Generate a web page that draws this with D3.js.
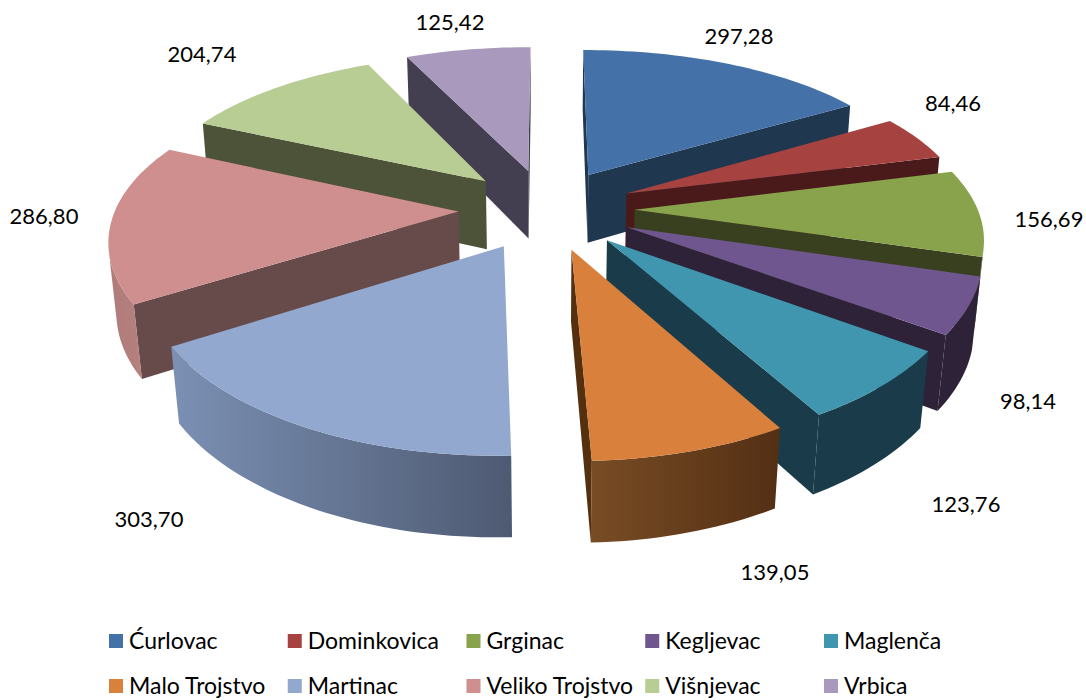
<!DOCTYPE html>
<html>
<head>
<meta charset="utf-8">
<script src="https://cdn.jsdelivr.net/npm/d3@7"></script>
<style>
  html, body { margin: 0; padding: 0; background: #fff; }
  text { font-family: Lato, "Open Sans", sans-serif; fill: #000; }
</style>
</head>
<body>
<svg id="chart" width="1086" height="700"></svg>
<script>
const names = ['Ćurlovac', 'Dominkovica', 'Grginac', 'Kegljevac', 'Maglenča',
               'Malo Trojstvo', 'Martinac', 'Veliko Trojstvo', 'Višnjevac', 'Vrbica']
const values = [297.28, 84.46, 156.69, 98.14, 123.76, 139.05, 303.70, 286.80, 204.74, 125.42]
const topColors = ['#4472a8', '#a64340', '#88a34c', '#70568f', '#3f96ae',
                   '#d8803c', '#92a8cf', '#cf8f8e', '#b8cd93', '#a899bd']
const wallColors = ['#203750', '#4a1a1a', '#384020', '#2d2238', '#1a3c4a',
                    '#55300f', '#6a7a9a', '#674a4a', '#4d5338', '#433e50']
const rimLeft = ['#203750', '#4a1a1a', '#384020', '#2d2238', '#1a3c4a',
                 '#784c24', '#7b90b4', '#b07c7a', '#4d5338', '#433e50']
const rimRight = ['#203750', '#4a1a1a', '#384020', '#2d2238', '#1a3c4a',
                  '#532f14', '#4e5a72', '#b98380', '#4d5338', '#433e50']
// label centres, by hand from the picture
const labelX = [739, 953, 1049, 1028, 966, 775, 149, 44, 202, 450]
const labelY = [35, 102, 218, 400, 503, 571, 518, 215, 53, 21]

const fmt = v => v.toFixed(2).replace('.', ',')

const cx = 546.5, cy = 209
const R = 343, explode = 88, depth = 80
const D = 1735, tilt = 27.4 * Math.PI / 180
const sinT = Math.sin(tilt), cosT = Math.cos(tilt)
const xPersp = 0.85   // the picture narrows less across than it does in height

// perspective: x right, y toward viewer, z up
function project(x, y, z) {
  let f = D / (D - cosT * y - sinT * z)
  return [cx + x * (1 + (f - 1) * xPersp), cy + (sinT * y - cosT * z) * f]
}

function area(pts) {
  return d3.sum(pts, (p, i) => {
    let q = pts[(i + 1) % pts.length]
    return p[0] * q[1] - q[0] * p[1]
  })
}

const svg = d3.select('#chart')
const defs = svg.append('defs')
const line = d3.line()
const closed = pts => line(pts) + 'Z'

const arcs = d3.pie().sort(null)(values)

const slices = arcs.map((a, i) => {
  let mid = (a.startAngle + a.endAngle) / 2,
      ox = explode * Math.sin(mid),
      oy = -explode * Math.cos(mid),
      steps = Math.max(8, Math.ceil((a.endAngle - a.startAngle) * 40)),
      angles = d3.range(steps + 1).map(k => a.startAngle + (a.endAngle - a.startAngle) * k / steps),
      top = angles.map(t => project(ox + R * Math.sin(t), oy - R * Math.cos(t), 0)),
      bottom = angles.map(t => project(ox + R * Math.sin(t), oy - R * Math.cos(t), -depth)),
      apexTop = project(ox, oy, 0),
      apexBottom = project(ox, oy, -depth)
  return { i, mid, top, bottom, apexTop, apexBottom }
})

// painter's order, back to front
slices.sort((a, b) => d3.descending(Math.cos(a.mid), Math.cos(b.mid)))

slices.forEach(s => {
  let g = svg.append('g').attr('class', 'slice'),
      n = s.top.length - 1,
      startWall = [s.apexTop, s.top[0], s.bottom[0], s.apexBottom],
      endWall = [s.top[n], s.apexTop, s.apexBottom, s.bottom[n]]

  // outer rim, only the runs of segments facing the viewer
  let runs = [], run = null
  d3.range(n).forEach(k => {
    let quad = [s.top[k], s.top[k + 1], s.bottom[k + 1], s.bottom[k]]
    if (area(quad) < 0) {
      if (!run) { run = [k, k + 1]; runs.push(run) }
      run[1] = k + 1
    } else run = null
  })

  let xs = s.top.map(p => p[0]), id = 'rim' + s.i
  defs.append('linearGradient')
      .attr('id', id)
      .attr('gradientUnits', 'userSpaceOnUse')
      .attr('x1', d3.min(xs)).attr('x2', d3.max(xs))
      .attr('y1', 0).attr('y2', 0)
      .selectAll('stop')
      .data([rimLeft[s.i], rimRight[s.i]])
      .join('stop')
      .attr('offset', (d, j) => j)
      .attr('stop-color', d => d)

  ;[startWall, endWall].forEach(w => {
    if (area(w) < 0) g.append('path').attr('d', closed(w)).attr('fill', wallColors[s.i])
  })

  runs.forEach(r => {
    let up = s.top.slice(r[0], r[1] + 1),
        down = s.bottom.slice(r[0], r[1] + 1).reverse()
    g.append('path').attr('d', closed(up.concat(down))).attr('fill', `url(#${id})`)
  })

  g.append('path')
   .attr('d', closed([s.apexTop].concat(s.top)))
   .attr('fill', topColors[s.i])
})

svg.append('g')
   .selectAll('text')
   .data(values)
   .join('text')
   .attr('x', (d, i) => labelX[i])
   .attr('y', (d, i) => labelY[i])
   .attr('text-anchor', 'middle')
   .attr('dominant-baseline', 'central')
   .attr('font-size', 22)
   .text(fmt)

// legend, five columns over two rows
const legendX = d3.scalePoint().domain(d3.range(5)).range([109, 824])
const legendY = d3.scalePoint().domain([0, 1]).range([634, 679])
const legend = svg.append('g')
  .selectAll('g')
  .data(names)
  .join('g')
  .attr('transform', (d, i) => `translate(${legendX(i % 5)},${legendY(Math.floor(i / 5))})`)

legend.append('rect')
  .attr('width', 14).attr('height', 14)
  .attr('fill', (d, i) => topColors[i])

legend.append('text')
  .attr('x', 20).attr('y', 6)
  .attr('dominant-baseline', 'central')
  .attr('font-size', 23)
  .text(d => d)
</script>
</body>
</html>
